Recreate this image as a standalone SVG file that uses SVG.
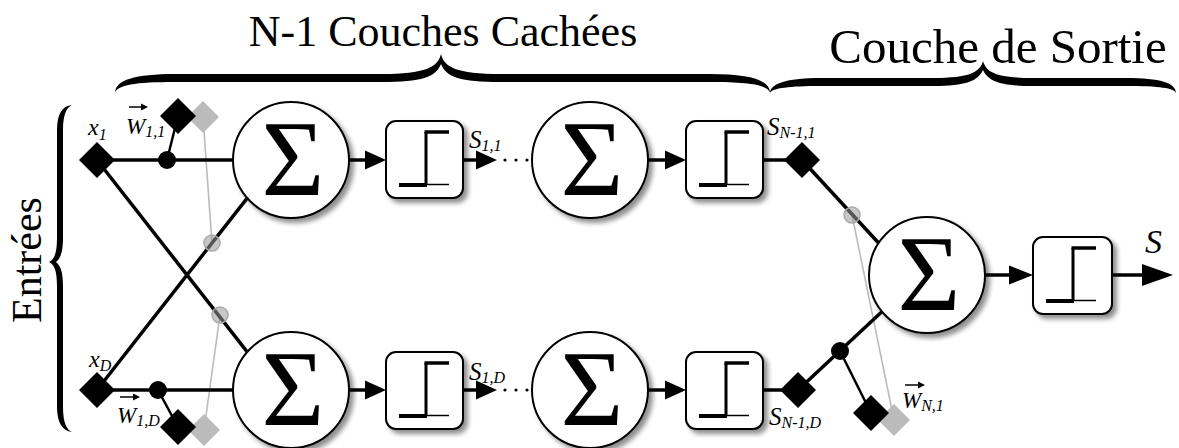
<svg xmlns="http://www.w3.org/2000/svg" width="1179" height="448" viewBox="0 0 1179 448">
<defs>
<style>
.node{fill:#fff;stroke:#000;stroke-width:2;filter:url(#sh)}
.ln{stroke:#000;stroke-width:3.5;fill:none}
.thin{stroke:#000;stroke-width:2.5;fill:none}
.gl{stroke:#bbb;stroke-width:1.6;fill:none}
.gd{fill:#999;fill-opacity:0.55;stroke:#aaa;stroke-width:1.5}
text{font-family:'Liberation Serif','Times New Roman',Times,'DejaVu Serif',serif}
.sig{font-size:108px;text-anchor:middle}
.lab{font-style:italic}
.ttl{text-anchor:middle}
</style>
<filter id="sh" x="-20%" y="-20%" width="150%" height="150%">
<feGaussianBlur in="SourceAlpha" stdDeviation="2.5"/>
<feOffset dx="4" dy="4" result="b"/>
<feComponentTransfer><feFuncA type="linear" slope="0.45"/></feComponentTransfer>
<feMerge><feMergeNode/><feMergeNode in="SourceGraphic"/></feMerge>
</filter>
<polygon id="dm" points="0,-18 18,0 0,18 -18,0"/>
<polygon id="dg" points="0,-16 16,0 0,16 -16,0"/>
<g id="stepglyph">
<line x1="40" y1="11" x2="40" y2="64" stroke="#000" stroke-width="3"/>
<line x1="38.5" y1="11" x2="63" y2="11" stroke="#000" stroke-width="3.5"/>
<line x1="13" y1="64" x2="41" y2="64" stroke="#000" stroke-width="4"/>
<line x1="40" y1="63.5" x2="63" y2="63.5" stroke="#000" stroke-width="1.5"/>
</g>
</defs>

<g id="brace-hidden">
<path d="M115,93 C115,80 135,74 175,74 L381,74 C426,74 438,67 441,54 C444,67 456,74 501,74 L710,74 C750,74 770,80 770,93 C768,85 750,82 710,82 L501,82 C460,82 446,77 441,64 C436,77 422,82 381,82 L175,82 C135,82 117,85 115,93 Z" fill="#000"/>
<text class="ttl" x="443" y="46" font-size="44">N-1 Couches Cachées</text>
</g>
<g id="brace-output">
<path d="M770,93 C770,83 790,78 820,78 L933,78 C970,78 980,72 983,61 C986,72 996,78 1033,78 L1126,78 C1160,78 1176,83 1176,93 C1174,88 1160,86 1126,86 L1033,86 C1000,86 988,81 983,70 C978,81 966,86 933,86 L820,86 C790,86 772,88 770,93 Z" fill="#000"/>
<text class="ttl" x="998" y="63" font-size="49">Couche de Sortie</text>
</g>
<g id="brace-inputs">
<path d="M72,105 C62,106 57,114 57,130 L57,237 C57,252 55,259 49,262 C55,265 57,272 57,287 L57,407 C57,422 62,431 72,432 C67,430 63,423 63,407 L63,287 C63,273 61,266 56,262 C61,258 63,251 63,237 L63,130 C63,114 67,107 72,105 Z" fill="#000"/>
<text class="ttl" transform="translate(41,260) rotate(-90)" font-size="42">Entrées</text>
</g>

<g id="connectors">
<line class="gl" x1="203" y1="117" x2="212" y2="243"/>
<line class="gl" x1="204" y1="430" x2="220" y2="315"/>
<line class="gl" x1="894" y1="420" x2="852" y2="215"/>
<line class="ln" x1="97" y1="160" x2="240" y2="160"/>
<line class="ln" x1="97" y1="390" x2="240" y2="390"/>
<line class="ln" x1="97" y1="160" x2="277" y2="390"/>
<line class="ln" x1="97" y1="390" x2="277" y2="160"/>
<line class="thin" x1="167" y1="160" x2="178" y2="116"/>
<line class="thin" x1="158" y1="390" x2="178" y2="427"/>
<line class="ln" x1="348" y1="160" x2="367" y2="160"/>
<polygon points="365,150.5 386,160 365,169.5"/>
<line class="ln" x1="463" y1="160" x2="478" y2="160"/>
<polygon points="476,150.5 497,160 476,169.5"/>
<circle cx="505" cy="160" r="1.6"/><circle cx="516" cy="160" r="1.6"/><circle cx="527" cy="160" r="1.6"/>
<line class="ln" x1="647" y1="160" x2="667" y2="160"/>
<polygon points="665,150.5 686,160 665,169.5"/>
<line class="ln" x1="762" y1="160" x2="802" y2="160"/>
<line class="ln" x1="348" y1="390" x2="367" y2="390"/>
<polygon points="365,380.5 386,390 365,399.5"/>
<line class="ln" x1="463" y1="390" x2="478" y2="390"/>
<polygon points="476,380.5 497,390 476,399.5"/>
<circle cx="505" cy="390" r="1.6"/><circle cx="516" cy="390" r="1.6"/><circle cx="527" cy="390" r="1.6"/>
<line class="ln" x1="647" y1="390" x2="667" y2="390"/>
<polygon points="665,380.5 686,390 665,399.5"/>
<line class="ln" x1="762" y1="390" x2="798" y2="390"/>
<line class="ln" x1="802" y1="160" x2="886" y2="251"/>
<line class="ln" x1="798" y1="390" x2="888" y2="306"/>
<line class="thin" x1="840" y1="351" x2="871" y2="413"/>
<line class="ln" x1="985" y1="275" x2="1011" y2="275"/>
<polygon points="1009,265.5 1033,275 1009,284.5"/>
<line class="ln" x1="1112" y1="275" x2="1144" y2="275"/>
<polygon points="1142,264 1173,275 1142,286"/>
</g>

<g id="w11"><use href="#dg" x="203" y="117" fill="#bbb"/><use href="#dm" x="178" y="116"/><circle cx="167" cy="160" r="9"/></g>
<g id="w1D"><use href="#dg" x="204" y="430" fill="#bbb"/><use href="#dm" x="178" y="427"/><circle cx="158" cy="390" r="9"/></g>
<g id="wN1"><use href="#dg" x="894" y="420" fill="#bbb"/><use href="#dm" x="871" y="413"/><circle cx="840" cy="351" r="9"/></g>
<g id="x1"><use href="#dm" x="97" y="160"/></g>
<g id="xD"><use href="#dm" x="97" y="390"/></g>
<g id="sN11"><use href="#dm" x="802" y="160"/></g>
<g id="sN1D"><use href="#dm" x="798" y="390"/></g>
<g id="gdots"><circle class="gd" cx="212" cy="243" r="8"/><circle class="gd" cx="220" cy="315" r="8"/><circle class="gd" cx="852" cy="215" r="8"/></g>

<g id="sum11"><circle class="node" cx="291" cy="160" r="58"/><text class="sig" x="293" y="195">Σ</text></g>
<g id="sum1D"><circle class="node" cx="291" cy="390" r="58"/><text class="sig" x="293" y="425">Σ</text></g>
<g id="sumN11"><circle class="node" cx="590" cy="160" r="58"/><text class="sig" x="592" y="195">Σ</text></g>
<g id="sumN1D"><circle class="node" cx="590" cy="390" r="58"/><text class="sig" x="592" y="425">Σ</text></g>
<g id="sumOut"><circle class="node" cx="927" cy="275" r="58"/><text class="sig" x="929" y="310">Σ</text></g>

<g id="step11"><rect class="node" x="386" y="121" width="77" height="77" rx="10"/><use href="#stepglyph" transform="translate(386,121)"/></g>
<g id="step1D"><rect class="node" x="386" y="352" width="77" height="77" rx="10"/><use href="#stepglyph" transform="translate(386,352)"/></g>
<g id="stepN11"><rect class="node" x="686" y="121" width="77" height="77" rx="10"/><use href="#stepglyph" transform="translate(686,121)"/></g>
<g id="stepN1D"><rect class="node" x="686" y="352" width="77" height="77" rx="10"/><use href="#stepglyph" transform="translate(686,352)"/></g>
<g id="stepOut"><rect class="node" x="1033" y="237" width="79" height="77" rx="10"/><use href="#stepglyph" transform="translate(1033,237)"/></g>

<g id="labels">
<text class="lab" x="88" y="135" font-size="24">x<tspan font-size="16" dy="5">1</tspan></text>
<text class="lab" x="89" y="367" font-size="24">x<tspan font-size="16" dy="4">D</tspan></text>
<text class="lab" x="126" y="134" font-size="23">W<tspan font-size="16" dy="3">1,1</tspan></text>
<path d="M129,107 L143,107" stroke="#000" stroke-width="1.5"/><polygon points="141,103.5 148,107 141,110.5"/>
<text class="lab" x="117" y="423" font-size="23">W<tspan font-size="16" dy="3">1,D</tspan></text>
<path d="M120,397 L135,397" stroke="#000" stroke-width="1.5"/><polygon points="133,393.5 140,397 133,400.5"/>
<text class="lab" x="902" y="408" font-size="23">W<tspan font-size="16" dy="3">N,1</tspan></text>
<path d="M905,385 L920,385" stroke="#000" stroke-width="1.5"/><polygon points="918,381.5 925,385 918,388.5"/>
<text class="lab" x="469" y="148" font-size="25">S<tspan font-size="16" dy="3">1,1</tspan></text>
<text class="lab" x="469" y="380" font-size="25">S<tspan font-size="16" dy="3">1,D</tspan></text>
<text class="lab" x="767" y="135" font-size="25">S<tspan font-size="16" dy="3">N-1,1</tspan></text>
<text class="lab" x="769" y="425" font-size="25">S<tspan font-size="16" dy="3">N-1,D</tspan></text>
<text class="lab" x="1145" y="253" font-size="34">S</text>
</g>
</svg>
